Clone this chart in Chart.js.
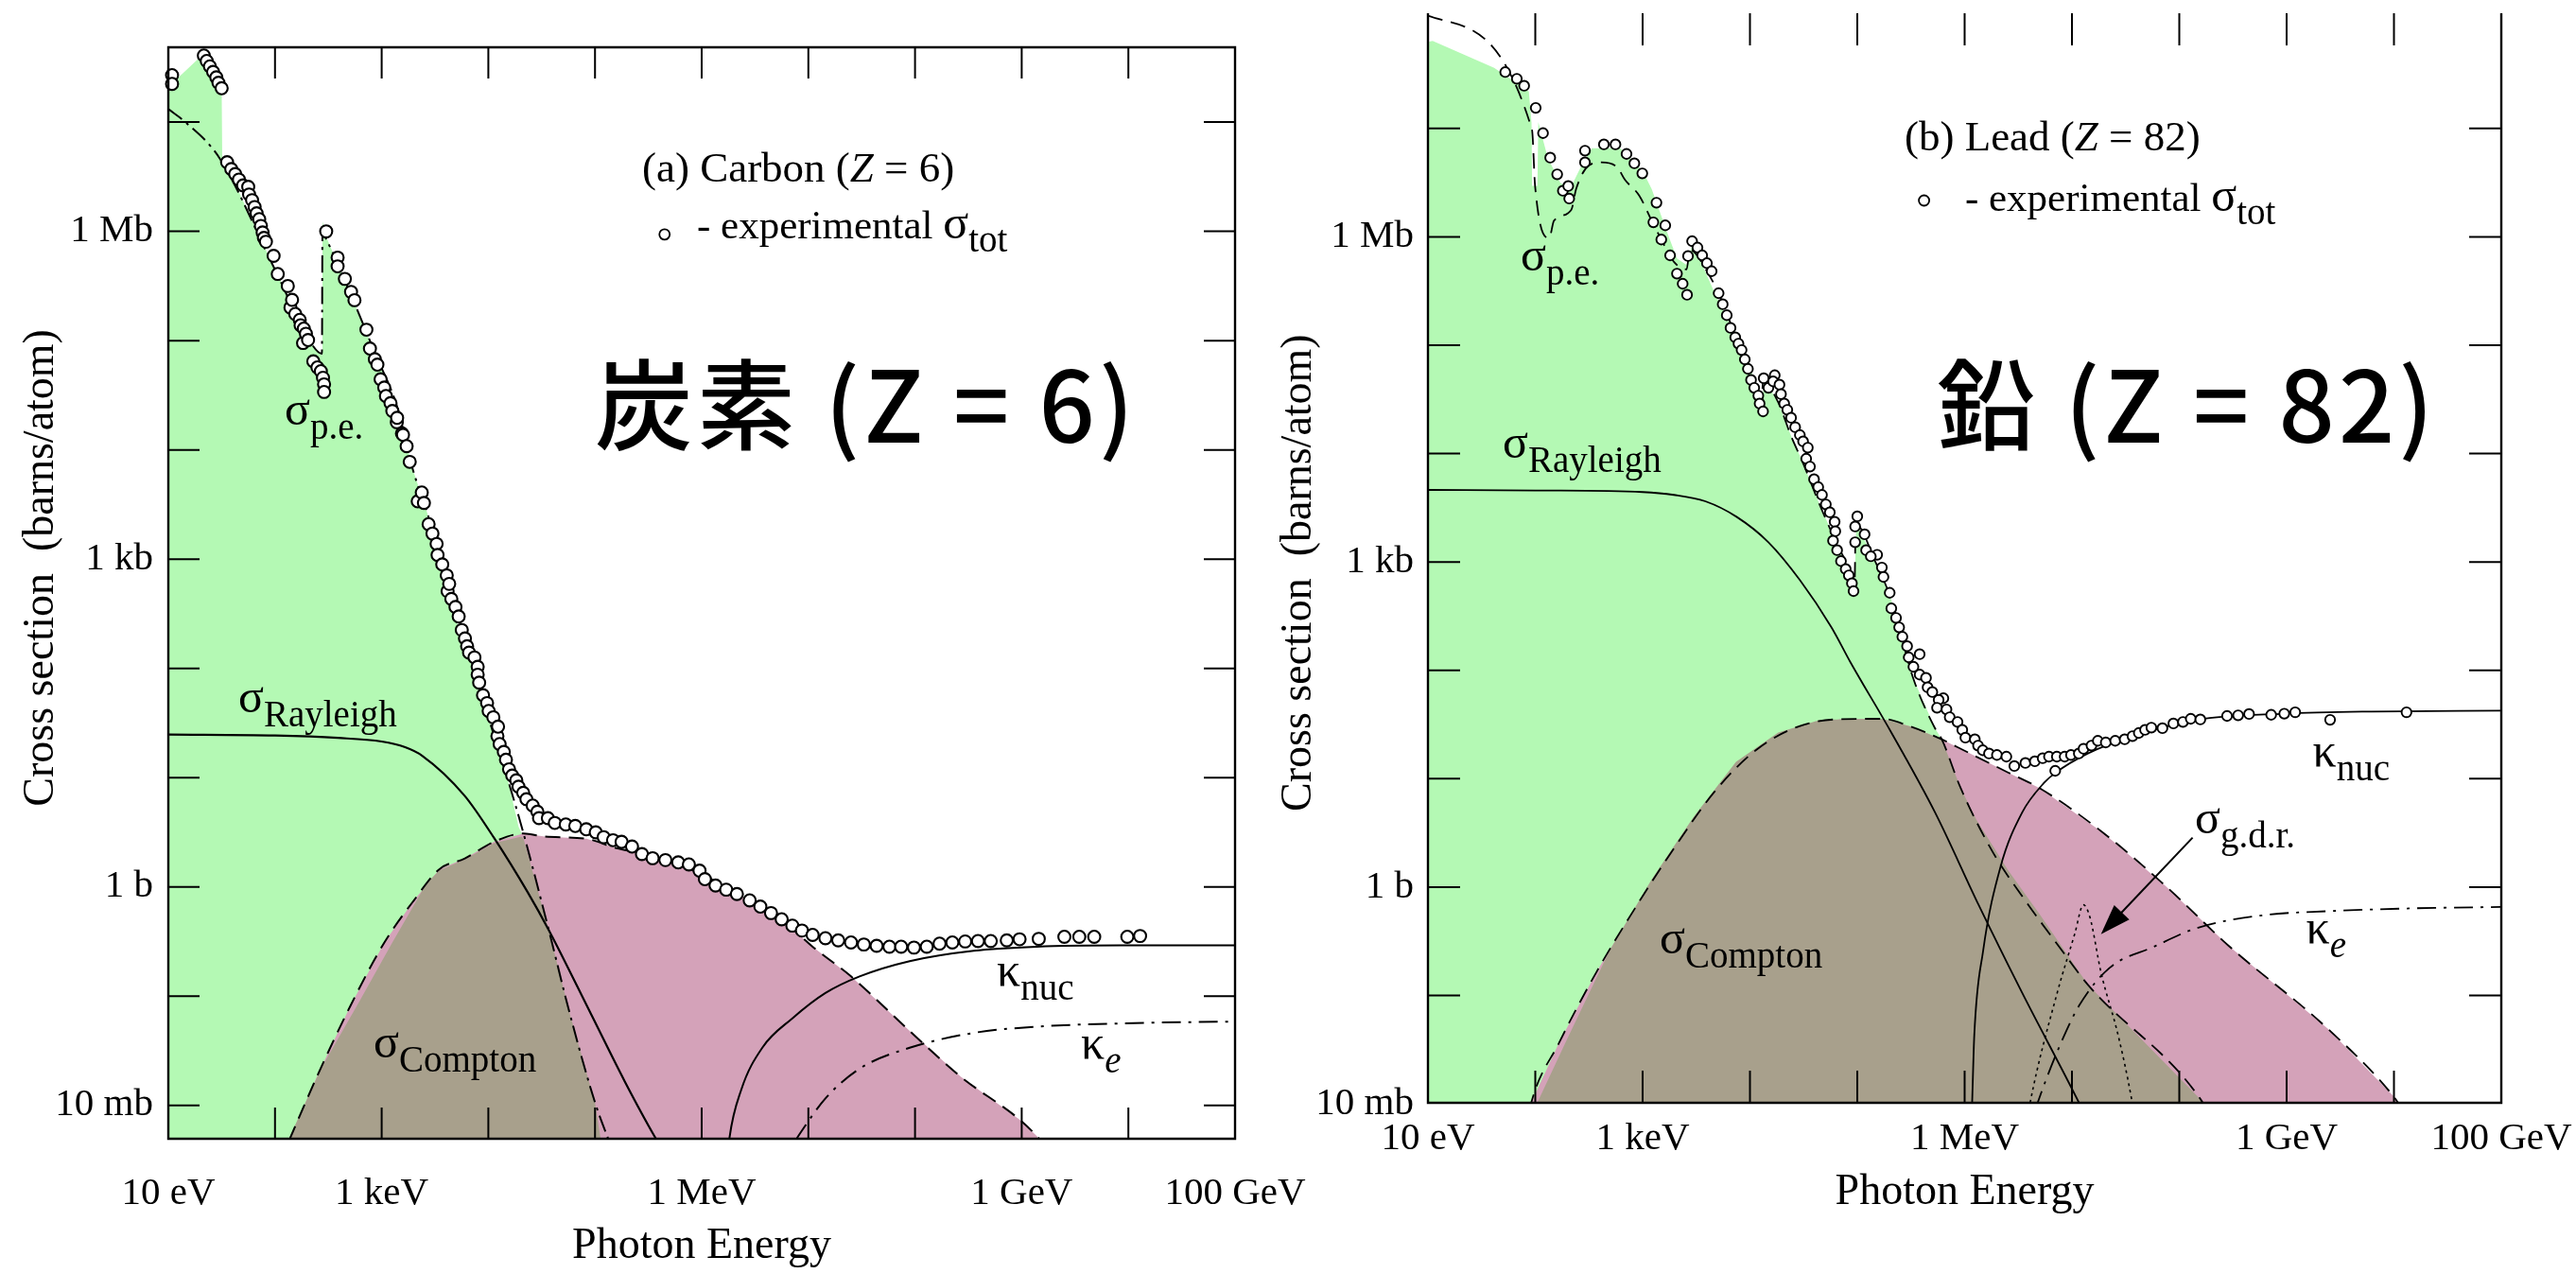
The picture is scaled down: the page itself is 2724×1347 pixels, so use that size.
<!DOCTYPE html>
<html>
<head>
<meta charset="utf-8">
<title>Photon cross sections: carbon and lead</title>
<script src="https://cdn.jsdelivr.net/npm/chart.js@4.4.1/dist/chart.umd.min.js"></script>
<style>
  body { margin: 0; background: #fff; }
  #wrap { position: relative; width: 2724px; height: 1347px; overflow: hidden; }
  canvas { position: absolute; top: 0; }
  #carbon { left: 0; }
  #lead { left: 1300px; }
</style>
</head>
<body>
<div id="wrap">
  <canvas id="carbon" width="1420" height="1347"></canvas>
  <canvas id="lead" width="1424" height="1347"></canvas>
</div>
<script>
// every pair is [log10(E / eV), log10(sigma / barn)]

const xTickVals = [1, 3, 6, 9, 11];
const xTickText = ["10 eV", "1 keV", "1 MeV", "1 GeV", "100 GeV"];
const yTickVals = [-2, 0, 3, 6];
const yTickText = ["10 mb", "1 b", "1 kb", "1 Mb"];

// ---- (a) carbon ----
const cExp = [
  [1.035,7.43],[1.035,7.35],[1.333,7.61],[1.36,7.56],[1.39,7.51],[1.42,7.46],[1.45,7.41],[1.47,7.36],[1.50,7.31],
  [1.551,6.633],[1.59,6.57],[1.627,6.525],[1.662,6.474],[1.701,6.421],[1.749,6.408],[1.757,6.338],[1.785,6.286],[1.809,6.223],[1.828,6.165],[1.852,6.112],[1.868,6.05],[1.884,5.99],[1.896,5.94],[1.915,5.905],[1.987,5.776],[2.026,5.61],[2.12,5.50],[2.145,5.303],[2.16,5.373],[2.19,5.244],[2.232,5.19],[2.24,5.14],[2.263,4.978],[2.27,5.11],[2.29,5.063],[2.31,5.005],[2.359,4.81],[2.398,4.755],[2.43,4.72],[2.45,4.66],[2.46,4.60],[2.46,4.53],
  [2.48,6.0],[2.587,5.76],[2.587,5.68],[2.655,5.565],[2.713,5.446],[2.745,5.37],[2.857,5.10],[2.89,4.927],[2.936,4.83],[2.96,4.78],[2.99,4.646],[3.024,4.57],[3.04,4.493],[3.083,4.427],[3.10,4.356],[3.142,4.253],[3.145,4.293],[3.19,4.15],[3.2,4.137],[3.234,4.034],[3.263,3.89],
  [3.338,3.529],[3.376,3.61],[3.396,3.514],[3.44,3.32],[3.476,3.234],[3.515,3.139],[3.524,3.038],[3.568,2.951],[3.61,2.851],[3.618,2.706],[3.633,2.773],[3.653,2.635],[3.692,2.562],[3.722,2.475],[3.751,2.351],[3.781,2.274],[3.801,2.202],[3.819,2.144],[3.87,2.10],[3.9,2.014],[3.9,1.942],[3.914,1.869],[3.95,1.754],[3.988,1.682],[4.003,1.61],[4.047,1.552],[4.085,1.379],[4.091,1.466],[4.106,1.307],[4.145,1.235],[4.165,1.163],[4.194,1.076],[4.224,1.018],[4.262,0.975],[4.283,0.917],[4.327,0.86],[4.357,0.802],[4.416,0.744],[4.46,0.687],[4.475,0.629],[4.558,0.629],[4.623,0.585],[4.726,0.571],[4.815,0.557],[4.918,0.527],[5.007,0.499],[5.081,0.455],[5.169,0.427],[5.249,0.412],[5.347,0.369],
  [5.44,0.30],[5.54,0.262],[5.66,0.245],[5.78,0.224],[5.88,0.205],[5.98,0.148],[6.03,0.07],[6.13,0.012],[6.23,-0.026],[6.33,-0.066],[6.45,-0.124],[6.55,-0.181],[6.65,-0.24],[6.75,-0.297],[6.85,-0.355],[6.94,-0.40],[7.04,-0.44],[7.16,-0.47],[7.28,-0.49],[7.40,-0.509],[7.52,-0.528],[7.64,-0.54],[7.76,-0.548],[7.87,-0.548],[7.99,-0.556],[8.11,-0.548],[8.23,-0.52],[8.35,-0.509],[8.47,-0.50],[8.59,-0.496],[8.71,-0.496],[8.86,-0.49],[8.98,-0.48],[9.16,-0.476],[9.40,-0.457],[9.54,-0.457],[9.68,-0.457],[9.99,-0.457],[10.11,-0.45]
];
const cPe = [
  [1.0,7.12],[1.16,7.00],[1.48,6.67],[1.99,5.67],[2.35,4.96],[2.44,4.88],[2.445,5.99],[2.48,5.93],[2.72,5.40],[2.94,4.88],[3.15,4.38],[3.293,3.817],[3.44,3.384],[3.589,2.808],[3.737,2.317],[3.884,1.913],[4.032,1.451],[4.18,0.99],[4.33,0.488],[4.567,-0.397],[4.765,-1.166],[5.0,-1.974],[5.14,-2.35]
];
const cGreen = [
  [1.0,7.28],[1.03,7.35],[1.28,7.58],[1.50,7.31],[1.505,6.69],[1.99,5.67],[2.35,4.96],[2.44,4.87],[2.445,6.09],[2.48,5.95],[2.72,5.40],[2.94,4.88],[3.15,4.38],[3.293,3.817],[3.44,3.384],[3.589,2.808],[3.737,2.317],[3.884,1.913],[4.032,1.451],[4.18,0.99],[4.283,0.55],[4.33,0.45],[4.567,-0.397],[4.765,-1.166],[5.0,-1.974],[5.14,-2.35]
];
const cRayleigh = [
  [1.0,1.394],[2.0,1.385],[2.59,1.363],[3.0,1.33],[3.22,1.278],[3.38,1.2],[3.776,0.836],[4.052,0.45],[4.369,-0.05],[4.567,-0.397],[4.963,-1.166],[5.279,-1.782],[5.557,-2.282],[5.6,-2.35]
];
const cCompton = [
  [2.133,-2.32],[2.39,-1.744],[2.707,-1.089],[3.024,-0.512],[3.30,-0.127],[3.542,0.162],[3.776,0.258],[4.052,0.412],[4.33,0.488],[4.53,0.46],[4.92,0.44],[5.18,0.36],[5.36,0.32],[5.58,0.262],[5.97,0.128],[6.37,-0.084],[6.77,-0.317],[7.04,-0.548],[7.40,-0.82],[7.95,-1.32],[8.43,-1.74],[8.98,-2.13],[9.14,-2.28],[9.2,-2.35]
];
const cBrown = [
  [2.11,-2.35],[2.43,-1.665],[2.79,-1.05],[3.10,-0.509],[3.42,0.031],[3.542,0.15],[3.776,0.25],[4.052,0.40],[4.31,0.46],[4.33,0.44],[4.567,-0.40],[4.765,-1.166],[5.0,-1.974],[5.06,-2.35]
];
const cKnuc = [
  [6.255,-2.35],[6.26,-2.30],[6.37,-1.86],[6.57,-1.47],[6.85,-1.204],[7.16,-0.972],[7.48,-0.82],[7.95,-0.68],[8.55,-0.585],[9.14,-0.548],[9.93,-0.536],[11.0,-0.536]
];
const cKe = [
  [6.88,-2.32],[6.93,-2.245],[7.16,-1.937],[7.48,-1.665],[7.95,-1.473],[8.55,-1.337],[9.14,-1.28],[9.93,-1.25],[11.0,-1.233]
];

// ---- (b) lead ----
const lExp = [
  [1.72,7.52],[1.828,7.458],[1.896,7.394],[2.004,7.19],[2.072,6.957],[2.139,6.731],[2.204,6.577],[2.257,6.425],[2.307,6.469],[2.316,6.353],[2.463,6.795],[2.463,6.687],[2.639,6.853],[2.747,6.853],[2.85,6.765],[2.923,6.678],[2.997,6.585],[3.129,6.315],[3.1,6.134],[3.211,6.106],[3.174,5.975],[3.256,5.829],[3.32,5.66],[3.373,5.567],[3.414,5.465],[3.423,5.823],[3.461,5.96],[3.511,5.901],[3.555,5.829],[3.599,5.757],[3.643,5.683],[3.708,5.48],[3.746,5.378],[3.784,5.277],[3.819,5.16],[3.863,5.073],[3.893,5.015],[3.922,4.956],[3.952,4.869],[3.981,4.782],
  [4.01,4.68],[4.04,4.607],[4.078,4.535],[4.09,4.462],[4.122,4.389],[4.128,4.695],[4.172,4.607],[4.231,4.723],[4.216,4.666],[4.275,4.636],[4.289,4.549],[4.319,4.462],[4.348,4.404],[4.383,4.331],[4.421,4.244],[4.465,4.171],[4.495,4.113],[4.539,4.055],[4.524,3.953],[4.559,3.88],[4.597,3.764],[4.636,3.691],[4.671,3.619],[4.707,3.531],[4.744,3.458],[4.789,3.371],[4.795,3.284],[4.774,3.196],[4.812,3.109],[4.848,3.008],[4.892,2.935],[4.921,2.877],[4.95,2.804],[4.965,2.731],[5.0,3.421],[4.98,3.327],[5.068,3.255],[4.98,3.182],[5.082,3.109],[5.185,3.066],[5.126,3.052],[5.229,2.949],[5.244,2.862],[5.302,2.716],
  [5.317,2.572],[5.361,2.484],[5.39,2.397],[5.42,2.31],[5.464,2.223],[5.479,2.12],[5.581,2.149],[5.523,2.033],[5.581,1.961],[5.64,1.931],[5.655,1.844],[5.699,1.80],[5.802,1.743],[5.758,1.728],[5.743,1.655],[5.831,1.64],[5.861,1.568],[5.934,1.524],[5.978,1.451],[6.007,1.379],[6.095,1.364],[6.125,1.306],[6.169,1.263],[6.227,1.233],[6.301,1.219],[6.389,1.204],[6.463,1.117],[6.566,1.146],[6.654,1.161],[6.727,1.189],[6.786,1.204],[6.844,1.073],[6.859,1.204],[6.932,1.204],[6.991,1.219],[7.064,1.233],[7.108,1.277],[7.182,1.306],[7.241,1.35],[7.315,1.335],[7.403,1.35],[7.491,1.364],[7.564,1.393],[7.623,1.422],[7.681,1.451],[7.74,1.472],[7.843,1.466],[7.945,1.51],[8.034,1.524],[8.107,1.553],[8.196,1.547],[8.445,1.579],[8.548,1.585],[8.65,1.597],
  [8.856,1.59],[8.978,1.60],[9.08,1.613],[9.405,1.544],[10.117,1.613]
];
const lPe = [
  [1.0,8.04],[1.969,6.99],[1.998,6.47],[2.13,5.99],[2.174,6.149],[2.336,6.251],[2.38,6.44],[2.498,6.658],[2.615,6.687],[2.762,6.643],[2.835,6.527],[2.968,6.381],[3.085,6.149],[3.174,5.975],[3.29,5.771],[3.41,5.70],[3.44,5.88],[3.595,5.69],[3.752,5.38],[3.91,4.95],[4.066,4.60],[4.11,4.44],[4.12,4.66],[4.26,4.48],[4.38,4.17],[4.5,3.90],[4.657,3.51],[4.814,3.16],[4.93,2.926],[4.975,2.80],[4.985,3.35],[5.167,3.004],[5.317,2.65],[5.52,1.93],[5.724,1.466],[5.787,1.364],[5.963,0.914],[6.257,0.332],[6.551,-0.105],[6.874,-0.541],[7.148,-0.9],[8.205,-1.967],[8.25,-2.05]
];
const lGreen = [
  [1.0,7.80],[1.044,7.807],[1.617,7.56],[1.94,7.34],[1.965,7.05],[1.97,6.47],[2.02,6.47],[2.028,7.06],[2.116,6.731],[2.233,6.498],[2.322,6.44],[2.439,6.673],[2.527,6.818],[2.791,6.818],[2.997,6.614],[3.085,6.44],[3.232,6.032],[3.32,5.8],[3.408,5.742],[3.467,5.945],[3.672,5.48],[3.966,4.898],[4.066,4.60],[4.114,4.43],[4.13,4.68],[4.26,4.48],[4.38,4.17],[4.5,3.90],[4.657,3.51],[4.814,3.16],[4.93,2.9],[4.975,2.78],[4.99,3.354],[5.167,3.004],[5.317,2.65],[5.52,1.93],[5.724,1.466],[5.787,1.364],[5.963,0.914],[6.257,0.332],[6.551,-0.105],[6.874,-0.541],[7.148,-0.9],[8.205,-1.967],[8.25,-2.05]
];
const lRayleigh = [
  [1.0,3.665],[2.0,3.66],[3.0,3.645],[3.291,3.619],[3.584,3.56],[3.878,3.415],[4.172,3.182],[4.465,2.833],[4.759,2.397],[4.935,2.077],[5.317,1.427],[5.724,0.69],[6.13,-0.163],[6.537,-0.977],[7.066,-1.99],[7.095,-2.05]
];
const lCompton = [
  [1.95,-2.05],[1.962,-1.99],[2.218,-1.443],[2.572,-0.78],[2.926,-0.2],[3.28,0.34],[3.673,0.884],[4.066,1.272],[4.46,1.485],[4.853,1.55],[5.229,1.553],[5.5,1.48],[5.787,1.364],[5.934,1.291],[6.404,1.058],[6.698,0.914],[7.285,0.506],[7.872,0.011],[8.46,-0.541],[9.385,-1.308],[9.996,-1.93],[10.08,-2.05]
];
const lBrown = [
  [1.99,-2.05],[2.295,-1.405],[2.69,-0.59],[3.083,0.07],[3.476,0.65],[3.87,1.155],[4.263,1.427],[4.657,1.544],[5.05,1.551],[5.229,1.553],[5.5,1.48],[5.787,1.364],[5.963,0.914],[6.11,0.622],[6.404,0.157],[6.698,-0.25],[7.148,-0.9],[8.205,-1.967],[8.25,-2.05]
];
const lKnuc = [
  [6.068,-2.05],[6.07,-1.99],[6.09,-1.366],[6.172,-0.59],[6.334,0.186],[6.537,0.69],[6.74,0.962],[6.84,1.05],[7.148,1.233],[7.554,1.388],[8.165,1.544],[8.978,1.60],[9.79,1.62],[11.0,1.628]
];
const lKe = [
  [6.66,-2.05],[6.68,-1.99],[6.862,-1.52],[7.066,-1.094],[7.35,-0.745],[7.758,-0.552],[8.165,-0.377],[8.775,-0.26],[9.385,-0.222],[10.2,-0.195],[11.0,-0.183]
];
const lGdr = [
  [6.60,-2.05],[6.61,-1.99],[6.862,-0.977],[7.025,-0.435],[7.107,-0.163],[7.168,-0.28],[7.27,-0.784],[7.43,-1.366],[7.554,-1.948],[7.57,-2.05]
];

const SERIF = '"Liberation Serif", "Times New Roman", serif';
const CJK = '"Noto Sans CJK JP", "Noto Sans", sans-serif';
const GREEN = "#b4f9b4", PINK = "#d4a2b9", BROWN = "#a8a08c";

Chart.defaults.font.family = SERIF;
Chart.defaults.color = "#000";

const toXY = a => a.map(([e, s]) => ({x: 10 ** e, y: 10 ** s}));

function fillSet(pts, color, order) {
  return {data: toXY(pts), backgroundColor: color, borderColor: "transparent", borderWidth: 0,
    fill: "start", pointRadius: 0, tension: 0, order};
}
function lineSet(pts, dash, width) {
  return {data: toXY(pts), borderColor: "#000", borderWidth: width, borderDash: dash, fill: false,
    pointRadius: 0, cubicInterpolationMode: "monotone", order: 3};
}
function expSet(pts, r, bw) {
  return {data: toXY(pts), showLine: false, pointRadius: r, pointBackgroundColor: "#fff",
    pointBorderColor: "#000", pointBorderWidth: bw, order: 0, clip: 10};
}

// draw text made of runs [text, font, dy]
function runs(ctx, x, y, parts) {
  for (const [t, font, dy] of parts) {
    ctx.font = font;
    ctx.fillText(t, x, y + (dy || 0));
    x += ctx.measureText(t).width;
  }
}

// the scales must not push the plot box around: it is placed by hand
function noPad(s) {
  s.paddingTop = s.paddingBottom = s.paddingLeft = s.paddingRight = 0;
}

const deco = {
  id: "deco",
  afterDatasetsDraw(chart, args, o) {
    const {ctx, chartArea: a, scales: {x, y}} = chart;
    const at = (e, s) => [x.getPixelForValue(10 ** e), y.getPixelForValue(10 ** s)];
    ctx.save();
    ctx.strokeStyle = "#000";
    ctx.fillStyle = "#000";
    ctx.setLineDash([]);
    // frame
    ctx.lineWidth = 2.4;
    ctx.beginPath();
    if (o.topLine) { ctx.moveTo(a.right, a.top); ctx.lineTo(a.left, a.top); } else ctx.moveTo(a.left, a.top);
    ctx.lineTo(a.left, a.bottom); ctx.lineTo(a.right, a.bottom); ctx.lineTo(a.right, a.top);
    if (o.topLine) ctx.closePath();
    ctx.stroke();
    // inward decade ticks on all four sides
    ctx.lineWidth = 2;
    ctx.beginPath();
    for (let k = 2; k <= 10; k++) {
      const p = x.getPixelForValue(10 ** k);
      ctx.moveTo(p, a.bottom); ctx.lineTo(p, a.bottom - o.tick);
      ctx.moveTo(p, a.top); ctx.lineTo(p, a.top + o.tick);
    }
    for (let k = -2; k <= 7; k++) {
      const p = y.getPixelForValue(10 ** k);
      if (p < a.top + 2 || p > a.bottom + 1) continue;
      ctx.moveTo(a.left, p); ctx.lineTo(a.left + o.tick, p);
      ctx.moveTo(a.right, p); ctx.lineTo(a.right - o.tick, p);
    }
    ctx.stroke();

    ctx.textAlign = "left";
    ctx.textBaseline = "alphabetic";
    // curve names
    for (const l of o.labels) {
      const [lx, ly] = at(l.at[0], l.at[1]);
      runs(ctx, lx, ly, [[l.main, `50px ${SERIF}`], [l.sub, `${l.it ? "italic " : ""}39px ${SERIF}`, 15]]);
    }
    // panel caption and symbol key
    let [lx, ly] = at(...o.caption.at);
    runs(ctx, lx, ly, [[o.caption.pre, `45px ${SERIF}`], ["Z", `italic 45px ${SERIF}`], [o.caption.post, `45px ${SERIF}`]]);
    const [cx, cy] = at(...o.keyDot);
    ctx.lineWidth = 1.8;
    ctx.beginPath(); ctx.arc(cx, cy, 5.5, 0, Math.PI * 2); ctx.stroke();
    [lx, ly] = at(...o.keyText);
    runs(ctx, lx, ly, [["- experimental ", `43px ${SERIF}`], ["σ", `50px ${SERIF}`], ["tot", `39px ${SERIF}`, 14]]);
    // big element name
    [lx, ly] = at(...o.big.at);
    ctx.font = `500 104px ${CJK}`;
    ctx.letterSpacing = "4px";
    ctx.fillText(o.big.text, lx, ly);
    ctx.letterSpacing = "0px";
    // arrow
    if (o.arrow) {
      const [x0, y0] = at(...o.arrow[0]), [x1, y1] = at(...o.arrow[1]);
      const g = Math.atan2(y1 - y0, x1 - x0), c = Math.cos(g), s = Math.sin(g);
      ctx.lineWidth = 2;
      ctx.beginPath(); ctx.moveTo(x0, y0); ctx.lineTo(x1 - 20 * c, y1 - 20 * s); ctx.stroke();
      ctx.beginPath();
      ctx.moveTo(x1, y1);
      ctx.lineTo(x1 - 32 * c + 11 * s, y1 - 32 * s - 11 * c);
      ctx.lineTo(x1 - 32 * c - 11 * s, y1 - 32 * s + 11 * c);
      ctx.closePath(); ctx.fill();
    }
    // vertical axis title
    const [, ty] = at(1, o.yTitleAt);
    ctx.translate(a.left + o.yTitleDx, ty);
    ctx.rotate(-Math.PI / 2);
    ctx.textAlign = "center";
    ctx.textBaseline = "middle";
    ctx.font = `46px ${SERIF}`;
    ctx.fillText("Cross section  (barns/atom)", 0, 0);
    ctx.restore();
  }
};

function panel(id, g, datasets, deco_opts) {
  return new Chart(document.getElementById(id), {
    type: "line",
    data: {datasets},
    options: {
      responsive: false, animation: false, devicePixelRatio: 1, events: [],
      layout: {autoPadding: false, padding: {left: 0, right: g.padR, top: g.padT, bottom: 0}},
      plugins: {legend: {display: false}, tooltip: {enabled: false}, deco: deco_opts},
      scales: {
        x: {
          type: "logarithmic", min: 10, max: 1e11,
          grid: {display: false, drawTicks: false}, border: {display: false},
          afterBuildTicks: s => { s.ticks = xTickVals.map(v => ({value: 10 ** v})); },
          afterFit: s => { s.height = g.xH; noPad(s); },
          ticks: {autoSkip: false, maxRotation: 0, minRotation: 0, padding: g.xPad,
            font: {size: 41}, color: "#000", callback: (v, i) => xTickText[i]},
          title: {display: true, text: "Photon Energy", font: {size: 46}, color: "#000",
            padding: {top: 0, bottom: g.xTitlePad}}
        },
        y: {
          type: "logarithmic", min: 10 ** g.yMin, max: 10 ** g.yMax,
          grid: {display: false, drawTicks: false}, border: {display: false},
          afterBuildTicks: s => { s.ticks = yTickVals.map(v => ({value: 10 ** v})); },
          afterFit: s => { s.width = g.yW; noPad(s); },
          ticks: {autoSkip: false, padding: g.yPad, font: {size: 41}, color: "#000",
            callback: (v, i) => yTickText[i]}
        }
      }
    },
    plugins: [deco]
  });
}

panel("carbon",
  {yMin: -2.306, yMax: 7.685, yW: 178, xH: 143, padR: 114, padT: 50, xPad: 34, yPad: 16, xTitlePad: 1},
  [
    fillSet(cGreen, GREEN, 12),
    fillSet(cCompton, PINK, 11),
    fillSet(cBrown, BROWN, 10),
    lineSet(cPe, [18, 6, 3, 6], 2),
    lineSet(cRayleigh, [], 2.2),
    lineSet(cCompton, [16, 9], 2),
    lineSet(cKnuc, [], 2),
    lineSet(cKe, [20, 8, 3, 8], 2),
    expSet(cExp, 6.4, 2.1)
  ],
  {
    tick: 33, topLine: true, yTitleDx: -134, yTitleAt: 2.92,
    labels: [
      {at: [2.09, 4.233], main: "σ", sub: "p.e."},
      {at: [1.656, 1.598], main: "σ", sub: "Rayleigh"},
      {at: [2.924, -1.558], main: "σ", sub: "Compton"},
      {at: [8.766, -0.904], main: "κ", sub: "nuc"},
      {at: [9.555, -1.57], main: "κ", sub: "e", it: true}
    ],
    caption: {at: [5.441, 6.455], pre: "(a) Carbon (", post: " = 6)"},
    keyDot: [5.652, 5.972], keyText: [5.956, 5.936],
    big: {at: [4.998, 4.066], text: "炭素 (Z = 6)"}
  });

panel("lead",
  {yMin: -1.99, yMax: 8.063, yW: 210, xH: 181, padR: 79, padT: 14, xPad: 14, yPad: 15, xTitlePad: 58},
  [
    fillSet(lGreen, GREEN, 12),
    fillSet(lCompton, PINK, 11),
    fillSet(lBrown, BROWN, 10),
    lineSet(lPe, [16, 9], 1.8),
    lineSet(lRayleigh, [], 1.8),
    lineSet(lCompton, [16, 9], 1.8),
    lineSet(lKnuc, [], 1.8),
    lineSet(lKe, [20, 8, 3, 8], 1.8),
    lineSet(lGdr, [3, 4], 1.6),
    expSet(lExp, 5.2, 1.9)
  ],
  {
    tick: 34, topLine: false, yTitleDx: -136, yTitleAt: 2.9,
    labels: [
      {at: [1.863, 5.692], main: "σ", sub: "p.e."},
      {at: [1.696, 3.962], main: "σ", sub: "Rayleigh"},
      {at: [3.159, -0.609], main: "σ", sub: "Compton"},
      {at: [9.242, 1.117], main: "κ", sub: "nuc"},
      {at: [8.145, 0.497], main: "σ", sub: "g.d.r."},
      {at: [9.181, -0.512], main: "κ", sub: "e", it: true}
    ],
    caption: {at: [5.44, 6.802], pre: "(b) Lead (", post: " = 82)"},
    keyDot: [5.622, 6.335], keyText: [6.004, 6.239],
    big: {at: [5.74, 4.101], text: "鉛 (Z = 82)"},
    arrow: [[8.124, 0.457], [7.27, -0.435]]
  });
</script>
</body>
</html>
